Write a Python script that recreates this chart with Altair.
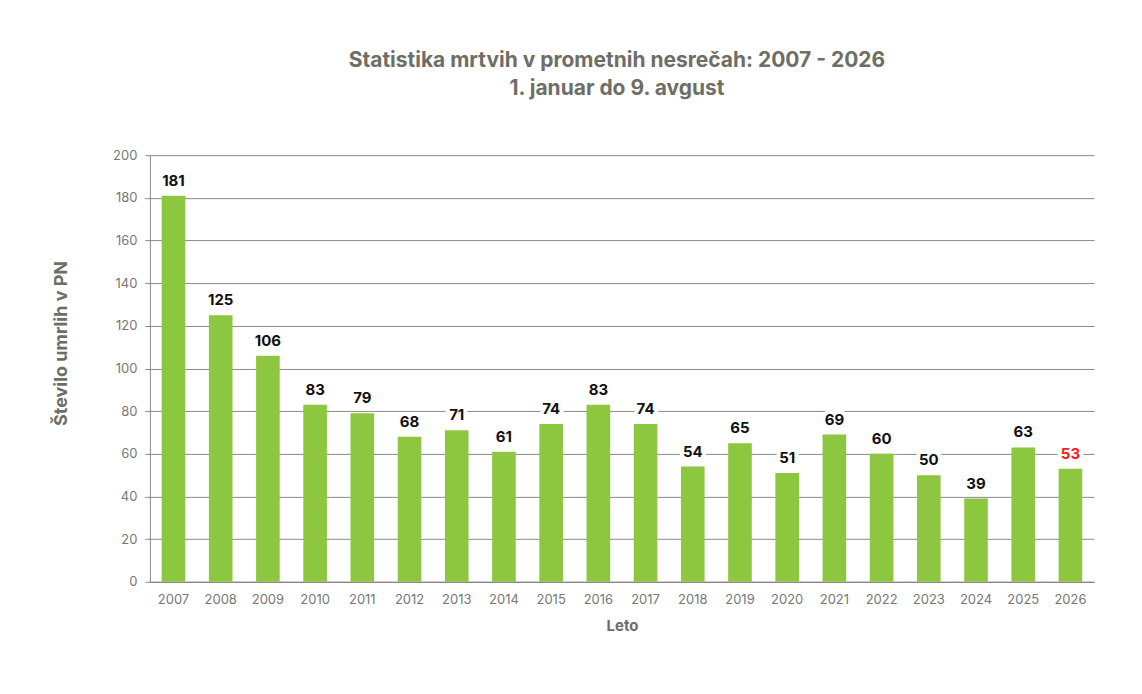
import altair as alt
import pandas as pd

years = [str(y) for y in range(2007, 2027)]
deaths = [181, 125, 106, 83, 79, 68, 71, 61, 74, 83, 74, 54, 65, 51, 69, 60, 50, 39, 63, 53]
label_colors = ["#111111"] * 19 + ["#ff1a1a"]

df = pd.DataFrame({"Leto": years, "Umrli": deaths, "lc": label_colors})

FONT = "Inter"
GRAY = "#6d6e66"

x = alt.X("Leto:N", sort=years, title="Leto",
          scale=alt.Scale(paddingInner=0.5, paddingOuter=0.25),
          axis=alt.Axis(labelAngle=0, ticks=False, labelPadding=12, labelFontSize=13,
                        labelColor="#777777", labelFont=FONT, titleFont=FONT,
                        titleFontSize=15, titleFontWeight="bold", titleColor=GRAY,
                        titlePadding=12, domainColor="#888888", domainWidth=1.2))
y = alt.Y("Umrli:Q", title="Število umrlih v PN",
          scale=alt.Scale(domain=[0, 200], nice=False),
          axis=alt.Axis(values=list(range(0, 201, 20)), tickSize=5, tickColor="#888888",
                        labelPadding=8, labelFontSize=13, labelColor="#777777",
                        labelFont=FONT, titleFont=FONT, titleFontSize=18,
                        titleFontWeight="bold", titleColor=GRAY, titleX=-88, titleY=188,
                        titleBaseline="middle", titleAngle=-90,
                        gridColor="#8a8a8a", gridWidth=1, domainColor="#888888"))

base = alt.Chart(df)
bars = base.mark_bar(color="#8dc63f").encode(x=x, y=y)
halo = base.mark_text(baseline="bottom", dy=-7, fontSize=15, fontWeight="bold", font=FONT,
                      stroke="white", strokeWidth=8, fill="white").encode(
    x=alt.X("Leto:N", sort=years), y="Umrli:Q", text="Umrli:Q")
labels = base.mark_text(baseline="bottom", dy=-7, fontSize=15, fontWeight="bold", font=FONT).encode(
    x=alt.X("Leto:N", sort=years), y="Umrli:Q", text="Umrli:Q",
    color=alt.Color("lc:N", scale=None))

chart = alt.layer(bars, halo, labels).properties(
    width=945, height=427,
    title=alt.TitleParams(["Statistika mrtvih v prometnih nesrečah: 2007 - 2026",
                           "1. januar do 9. avgust"],
                          font=FONT, fontSize=21, fontWeight="bold", color=GRAY,
                          anchor="middle", offset=50, lineHeight=28, dx=-5),
    autosize=alt.AutoSizeParams(type="none"),
    padding={"left": 142, "top": 147, "right": 40, "bottom": 90},
).configure_view(stroke=None).configure_axis(grid=False).configure_axisY(grid=True)

chart.save("out.html", embed_options={"renderer": "svg", "actions": False})
